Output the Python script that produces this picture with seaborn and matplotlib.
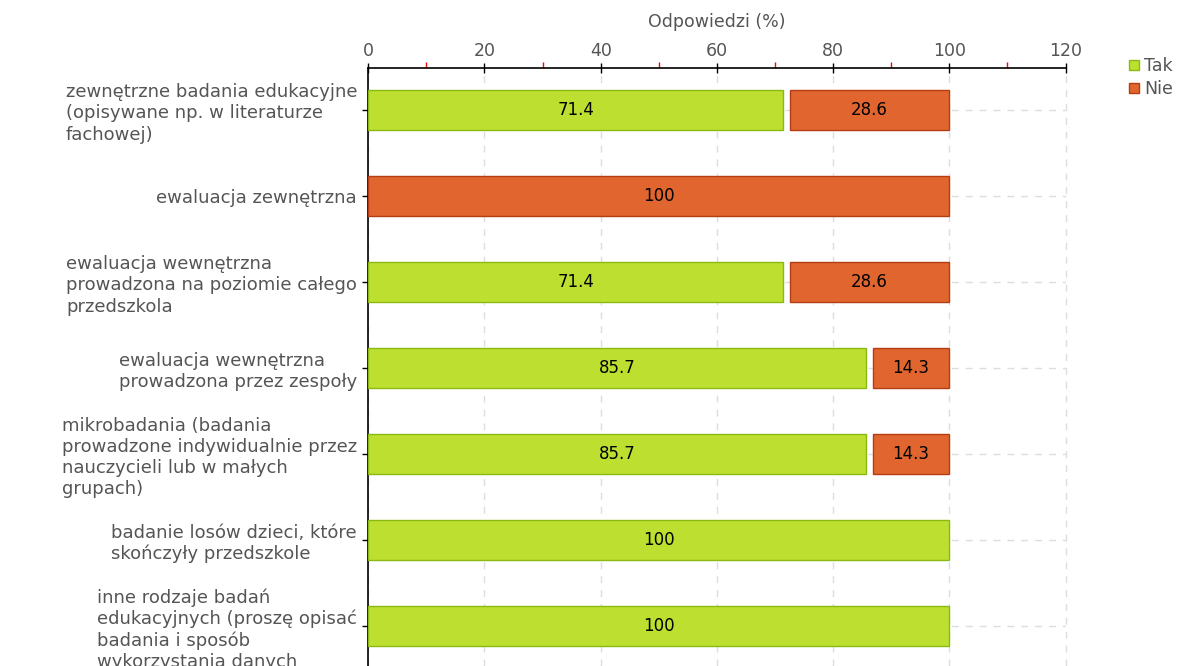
import matplotlib
matplotlib.use("Agg")
import matplotlib.pyplot as plt
import seaborn as sns
import pandas as pd
from matplotlib.lines import Line2D
from matplotlib.ticker import MultipleLocator

# Data
categories = [
    "zewnętrzne badania edukacyjne\n(opisywane np. w literaturze\nfachowej)",
    "ewaluacja zewnętrzna",
    "ewaluacja wewnętrzna\nprowadzona na poziomie całego\nprzedszkola",
    "ewaluacja wewnętrzna\nprowadzona przez zespoły",
    "mikrobadania (badania\nprowadzone indywidualnie przez\nnauczycieli lub w małych\ngrupach)",
    "badanie losów dzieci, które\nskończyły przedszkole",
    "inne rodzaje badań\nedukacyjnych (proszę opisać\nbadania i sposób\nwykorzystania danych",
]
tak = [71.4, 0, 71.4, 85.7, 85.7, 100, 100]
nie = [28.6, 100, 28.6, 14.3, 14.3, 0, 0]
series_names = ["Tak", "Nie"]

df = pd.DataFrame({"kategoria": categories, "Tak": tak, "Nie": nie})

green = "#bde030"
green_edge = "#8cb814"
orange = "#e0652f"
orange_edge = "#b53d12"
text_gray = "#555555"

sns.set_style("white")
plt.rcParams["font.family"] = ["DejaVu Sans"]

fig = plt.figure(figsize=(11.84, 6.66), dpi=100)
ax = fig.add_axes([0.311, 0.0, 0.589, 0.898])

sns.barplot(data=df, x="Tak", y="kategoria", orient="h", color=green, saturation=1,
            edgecolor=green_edge, linewidth=1, width=0.465, ax=ax, zorder=3)
sns.barplot(data=df, x="Nie", y="kategoria", orient="h", color=orange, saturation=1,
            edgecolor=orange_edge, linewidth=1, width=0.465, left=df["Tak"].values,
            ax=ax, zorder=3)

# small white gap between stacked segments, hide empty segments
for p, t in zip(ax.containers[1].patches, tak):
    if t > 0:
        p.set_x(t + 1.1)
        p.set_width(p.get_width() - 1.1)
for cont in ax.containers:
    for p in cont.patches:
        if p.get_width() <= 0:
            p.set_visible(False)

for cont, vals in zip(ax.containers, [tak, nie]):
    ax.bar_label(cont, labels=[f"{v:g}" if v > 0 else "" for v in vals],
                 label_type="center", fontsize=12, color="black")

ax.set_xlim(0, 120)
ax.set_ylim(6.465, -0.488)
ax.xaxis.tick_top()
ax.xaxis.set_label_position("top")
ax.xaxis.set_major_locator(MultipleLocator(20))
ax.xaxis.set_minor_locator(MultipleLocator(10))
ax.tick_params(axis="x", which="major", direction="inout", length=7, width=1,
               color="black", labelsize=12.5, labelcolor=text_gray, pad=2)
ax.tick_params(axis="x", which="minor", direction="out", length=4, width=1,
               color="red", top=True, bottom=False)
ax.tick_params(axis="y", direction="out", length=4, width=1, color="black",
               left=True, labelsize=13, labelcolor=text_gray, pad=4)
for lbl in ax.get_yticklabels():
    lbl.set_multialignment("left")
    lbl.set_linespacing(1.22)

ax.set_xlabel("Odpowiedzi (%)", fontsize=12.5, color=text_gray, labelpad=11)
ax.set_ylabel("")

ax.grid(True, which="major", color="#dddddd", linestyle=(0, (5, 5)), linewidth=1)
for gl in ax.get_xgridlines():
    gl.set_clip_on(False)
ax.set_axisbelow(True)
for s in ["right", "bottom"]:
    ax.spines[s].set_visible(False)
for s in ["top", "left"]:
    ax.spines[s].set_color("black")
    ax.spines[s].set_linewidth(1.2)

handles = [
    Line2D([], [], marker="s", linestyle="", markersize=7,
           markerfacecolor=green, markeredgecolor=green_edge),
    Line2D([], [], marker="s", linestyle="", markersize=7,
           markerfacecolor=orange, markeredgecolor=orange_edge),
]
leg = fig.legend(handles, series_names, loc="upper left", bbox_to_anchor=(0.946, 0.925),
                 frameon=False, fontsize=12.5, handletextpad=0.2, labelspacing=0.3,
                 handlelength=0.8, borderaxespad=0)
for t in leg.get_texts():
    t.set_color(text_gray)

fig.savefig("out.png", dpi=100)
